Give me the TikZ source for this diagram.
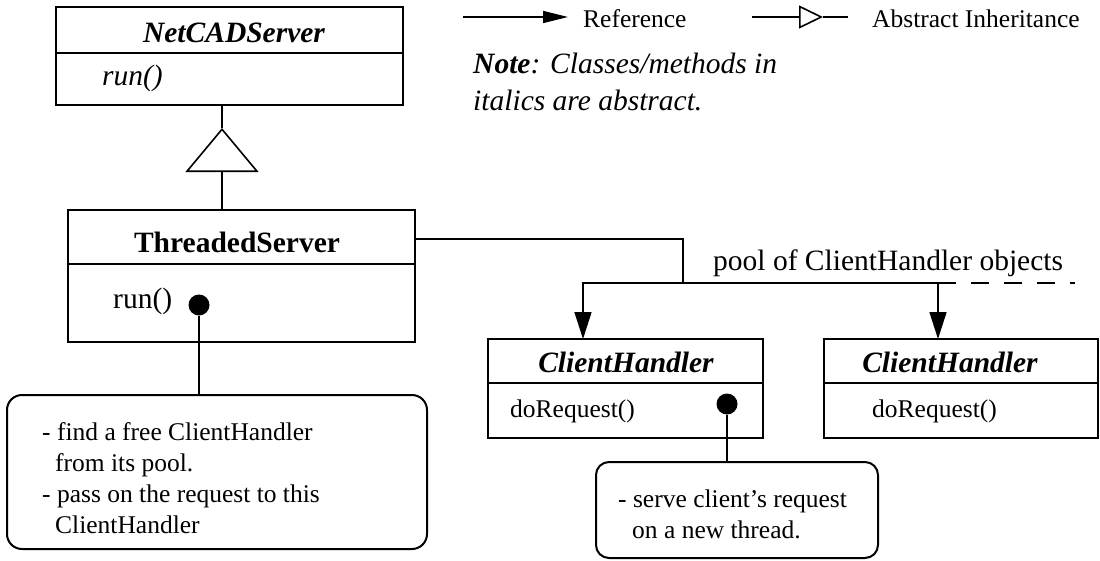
\documentclass[tikz,border=0pt]{standalone}
\usepackage{fontspec}
\setmainfont{Liberation Serif}
\usetikzlibrary{arrows.meta}
\newcommand\largetxt{\fontsize{29.5}{36}\selectfont}
\newcommand\smalltxt{\fontsize{25.5}{31.3}\selectfont}
\begin{document}
\begin{tikzpicture}[x=1pt,y=-1pt,
  classbox/.style={draw, line width=2pt, anchor=north west, inner sep=0pt, outer sep=0pt},
  notebox/.style={draw, line width=2pt, rounded corners=15pt, anchor=north west, inner sep=0pt, outer sep=0pt},
  dot/.style={circle, fill=black, inner sep=0pt, minimum size=21pt},
  txt/.style={inner sep=0pt, anchor=base west, font=\smalltxt},
  bigtxt/.style={inner sep=0pt, anchor=base west, font=\largetxt},
  conn/.style={line width=1.6pt},
  divider/.style={line width=1.6pt},
  ref/.style={conn, -{Triangle[length=27pt,width=17pt]}},
  legendref/.style={conn, -{Triangle[length=25pt,width=12pt]}},
  inherit/.style={conn, -{Triangle[open,length=44pt,width=73pt]}},
  inheritsmall/.style={conn, -{Triangle[open,length=24pt,width=23pt]}}]
\useasboundingbox (0,0) rectangle (1100,560);

% ---- legend ----
\coordinate (refA) at (463,17);
\coordinate (refB) at (568,17);
\draw[legendref] (refA) -- (refB);
\node[txt] (reflbl) at (583,27) {Reference};
\coordinate (inhA) at (752,17);
\coordinate (inhTip) at (823,17);
\coordinate (inhB) at (848,17);
\draw[inheritsmall] (inhA) -- (inhTip);
\draw[conn] (inhTip) -- (inhB);
\node[txt] (inhlbl) at (872,27) {Abstract Inheritance};
\node[bigtxt] (note1) at (473,73) {\itshape\textbf{Note}: Classes/methods in};
\node[bigtxt] (note2) at (473,110) {\itshape italics are abstract.};

% ---- NetCADServer ----
\node[classbox, minimum width=347pt, minimum height=98pt] (netcad) at (56,7) {};
\draw[divider] ([yshift=-46pt]netcad.north west) -- ([yshift=-46pt]netcad.north east);
\node[inner sep=0pt, anchor=base, font=\largetxt] (netcadname) at (234,42) {\bfseries\itshape NetCADServer};
\node[bigtxt] (netcadrun) at (102,85) {\itshape run()};

% ---- ThreadedServer ----
\node[classbox, minimum width=347pt, minimum height=132pt] (threaded) at (68,210) {};
\draw[divider] ([yshift=-54pt]threaded.north west) -- ([yshift=-54pt]threaded.north east);
\node[inner sep=0pt, anchor=base, font=\largetxt] (threadedname) at (237,252) {\bfseries ThreadedServer};
\node[bigtxt] (threadedrun) at (113,308) {run()};
\node[dot] (tsdot) at (199,305) {};

% inheritance
\coordinate (apex) at (222,128);
\draw[inherit] (threaded.north -| apex) -- (apex);
\draw[conn] (apex) -- (netcad.south -| apex);

% ---- ClientHandler objects ----
\node[classbox, minimum width=275pt, minimum height=99pt] (ch1) at (488,339) {};
\draw[divider] ([yshift=-44pt]ch1.north west) -- ([yshift=-44pt]ch1.north east);
\node[inner sep=0pt, anchor=base, font=\largetxt] (ch1name) at (626,372) {\bfseries\itshape ClientHandler};
\node[txt] (ch1req) at (510,417) {doRequest()};
\node[dot] (chdot) at (727,404) {};

\node[classbox, minimum width=274pt, minimum height=99pt] (ch2) at (824,339) {};
\draw[divider] ([yshift=-44pt]ch2.north west) -- ([yshift=-44pt]ch2.north east);
\node[inner sep=0pt, anchor=base, font=\largetxt] (ch2name) at (950,372) {\bfseries\itshape ClientHandler};
\node[txt] (ch2req) at (872,417) {doRequest()};

% ---- reference to the pool ----
\coordinate (junction) at (683,283);
\coordinate (poolend) at (1075,283);
\draw[conn] ([yshift=37pt]threaded.east) -| (junction);
\draw[ref] (junction) -| ([xshift=-42.5pt]ch1.north);
\draw[ref] (junction) -| ([xshift=-23pt]ch2.north);
\draw[conn, dash pattern=on 18pt off 15pt] ([xshift=-23pt]ch2.north |- junction) -- (poolend);
\node[bigtxt] (poollbl) at (713,270) {pool of ClientHandler objects};

% ---- notes ----
\node[notebox, minimum width=420pt, minimum height=154pt] (tsnote) at (7,395) {};
\node[txt] (tsl1) at (42,440) {- find a free ClientHandler};
\node[txt] (tsl2) at (55,471) {from its pool.};
\node[txt] (tsl3) at (42,502) {- pass on the request to this};
\node[txt] (tsl4) at (55,533) {ClientHandler};
\draw[conn] (tsdot) -- (tsdot |- tsnote.north);

\node[notebox, rounded corners=13pt, minimum width=282pt, minimum height=96pt] (chnote) at (596,462) {};
\node[txt] (chl1) at (618,507) {- serve client's request};
\node[txt] (chl2) at (632,538) {on a new thread.};
\draw[conn] (chdot) -- (chdot |- chnote.north);
\end{tikzpicture}
\end{document}
